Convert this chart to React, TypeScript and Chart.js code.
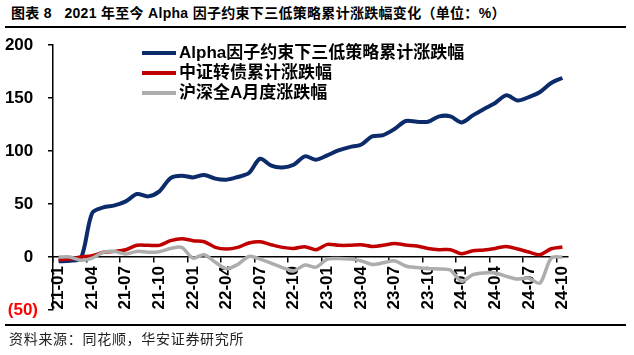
import React, { useEffect, useRef } from 'react';
import { Chart, registerables } from 'chart.js';
Chart.register(...registerables);

const categories = [
  '21-01','21-02','21-03','21-04','21-05','21-06','21-07','21-08','21-09','21-10','21-11','21-12',
  '22-01','22-02','22-03','22-04','22-05','22-06','22-07','22-08','22-09','22-10','22-11','22-12',
  '23-01','23-02','23-03','23-04','23-05','23-06','23-07','23-08','23-09','23-10','23-11','23-12',
  '24-01','24-02','24-03','24-04','24-05','24-06','24-07','24-08','24-09','24-10',
];

const seriesNames = ['Alpha因子约束下三低策略累计涨跌幅', '中证转债累计涨跌幅', '沪深全A月度涨跌幅'];

const alphaValues = [
  -4, -3.5, -1, 41.5, 46.8, 48.7, 52.5, 59.4, 57.2, 61.9, 74.5, 76.7,
  75.1, 77.4, 73.9, 72.9, 75.5, 79.2, 92.7, 86.1, 84.5, 87, 94.9, 91.8,
  95.9, 100.6, 103.7, 105.9, 113.8, 115, 120.7, 128.3, 127.6, 127.6, 132.7, 132.7,
  127, 133.6, 139.6, 145.3, 152.5, 147.7, 150.9, 155.7, 164.2, 168.9,
];

const bondValues = [
  -2.5, -2, 0, 1.2, 4.4, 5.3, 6.9, 11, 11, 11, 15.4, 17.3,
  15.4, 14.4, 9.1, 7.5, 9.1, 13.2, 14.4, 11.6, 9.1, 8.1, 9.7, 6.9,
  11.9, 11, 11, 11.6, 10, 11, 12.8, 11.3, 10.4, 8.1, 6.9, 6.9,
  3.1, 5.9, 6.6, 8.1, 10, 7.5, 4.7, 2.2, 7.8, 9.4,
];

const marketValues = [
  0, 0, -3, -1, 4.4, 5.3, 2.8, 5.3, 4.4, 5, 8, 9,
  -1, 2.2, -5, -11, -7, 0.5, -2, -6, -10, -13, -7.5, -9.5,
  -2, -1.5, -2, -3.5, -7, -5.5, -3.5, -8.5, -10, -11, -11.3, -12.5,
  -23, -16.7, -15, -15, -18.3, -20.8, -20, -24.5, -1, 0,
];

const yTicks = [-50, 0, 50, 100, 150, 200];

const colors = ['#0c2b6b', '#c00000', '#adadad'];
const FONT = '"Liberation Sans", Arial, "Noto Sans CJK SC", sans-serif';

export default function App() {
  const ref = useRef<HTMLCanvasElement>(null);

  useEffect(() => {
    const chart = new Chart(ref.current!, {
      type: 'line',
      data: {
        labels: categories,
        datasets: [
          { label: seriesNames[2], data: marketValues, borderColor: colors[2], borderWidth: 3.5, tension: 0.3, pointRadius: 0 },
          { label: seriesNames[1], data: bondValues, borderColor: colors[1], borderWidth: 3.5, tension: 0.3, pointRadius: 0 },
          { label: seriesNames[0], data: alphaValues, borderColor: colors[0], borderWidth: 4, tension: 0.3, pointRadius: 0 },
        ],
      },
      options: {
        animation: false,
        responsive: false,
        devicePixelRatio: 1,
        layout: { padding: { left: 0, top: 45, right: 66, bottom: 45 } },
        plugins: { legend: { display: false }, tooltip: { enabled: false } },
        scales: {
          x: {
            type: 'category',
            position: { y: 0 } as any,
            offset: true,
            grid: {
              offset: true,
              drawOnChartArea: false,
              drawTicks: true,
              tickLength: 5,
              lineWidth: 1.5,
              color: (ctx: any) => (ctx.index % 3 === 0 ? '#000' : 'rgba(0,0,0,0)'),
            },
            border: { display: true, color: '#000', width: 1.5 },
            ticks: {
              autoSkip: false,
              minRotation: 90,
              maxRotation: 90,
              padding: 4,
              color: '#000',
              font: { family: FONT, size: 17, weight: 'bold' },
              callback: (_v: any, i: number) => (i % 3 === 0 ? categories[i] : ''),
            },
          },
          y: {
            min: yTicks[0],
            max: yTicks[yTicks.length - 1],
            afterFit: (scale: any) => { scale.width = 53; },
            afterBuildTicks: (scale: any) => { scale.ticks = yTicks.map((v) => ({ value: v })); },
            grid: { drawOnChartArea: false, drawTicks: true, tickLength: 5, lineWidth: 1.5, color: '#000' },
            border: { display: true, color: '#000', width: 1.5 },
            ticks: {
              padding: 10,
              color: (ctx: any) => (ctx.tick && ctx.tick.value < 0 ? '#ff0000' : '#000'),
              font: { family: FONT, size: 17, weight: 'bold' },
              callback: (v: any) => (v < 0 ? `(${-v})` : `${v} `),
            },
          },
        },
      },
    });
    return () => chart.destroy();
  }, []);

  const legendRows = [0, 1, 2];

  return (
    <div style={{ position: 'fixed', left: 0, top: 0, width: 634, height: 355, background: '#fff', overflow: 'hidden', fontFamily: FONT }}>
      <div style={{ position: 'absolute', left: 11, top: 5, fontSize: 14, fontWeight: 'bold', whiteSpace: 'nowrap', lineHeight: '16px', color: '#000', letterSpacing: 0.3 }}>
        图表 8&nbsp;&nbsp; 2021 年至今 Alpha 因子约束下三低策略累计涨跌幅变化（单位：%）
      </div>
      <div style={{ position: 'absolute', left: 5, top: 26, width: 621, height: 1.5, background: '#000' }} />
      <canvas ref={ref} width={634} height={355} style={{ position: 'absolute', left: 0, top: 0, width: 634, height: 355 }} />
      {legendRows.map((k) => (
        <div key={k} style={{ position: 'absolute', left: 142, top: 43 + k * 20, height: 20, display: 'flex', alignItems: 'center', whiteSpace: 'nowrap' }}>
          <div style={{ width: 34, height: 4, background: colors[k], marginRight: 3 }} />
          <span style={{ fontSize: 17, fontWeight: 'bold', color: '#000', lineHeight: '20px' }}>{seriesNames[k]}</span>
        </div>
      ))}
      <div style={{ position: 'absolute', left: 5, top: 324, width: 621, height: 1.5, background: '#000' }} />
      <div style={{ position: 'absolute', left: 9, top: 331, fontSize: 14, color: '#222', whiteSpace: 'nowrap', lineHeight: '16px', letterSpacing: 0.7 }}>
        资料来源：同花顺，华安证券研究所
      </div>
    </div>
  );
}
